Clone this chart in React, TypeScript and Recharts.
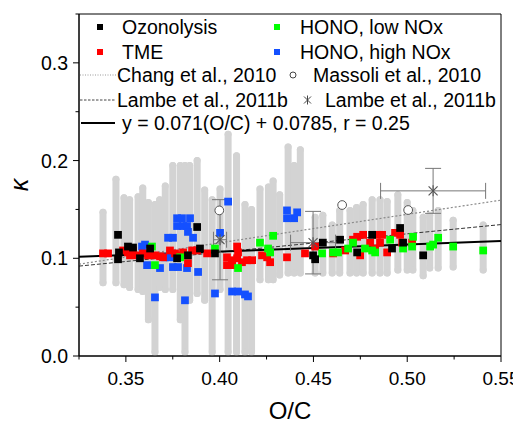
import React from 'react';
import {
  ComposedChart, Scatter, Line, XAxis, YAxis, ZAxis, ErrorBar, Legend, ReferenceArea,
} from 'recharts';

const FONT = '"Liberation Sans", Arial, Helvetica, sans-serif';

// ---------- axes ----------
const X_TICKS = [0.325, 0.35, 0.375, 0.4, 0.425, 0.45, 0.475, 0.5, 0.525, 0.55];
const X_MAJOR = [0.35, 0.4, 0.45, 0.5, 0.55];
const Y_TICKS = [0, 0.05, 0.1, 0.15, 0.2, 0.25, 0.3, 0.35];
const Y_MAJOR = [0, 0.1, 0.2, 0.3];
const X_LABEL = 'O/C';
const Y_LABEL = 'κ';

// ---------- legend labels ----------
const NAMES = {
  ozo: 'Ozonolysis',
  tme: 'TME',
  low: 'HONO, low NOx',
  high: 'HONO, high NOx',
  chang: 'Chang et al., 2010',
  massoli: 'Massoli et al., 2010',
  lambeLine: 'Lambe et al., 2011b',
  lambePts: 'Lambe et al., 2011b',
  fit: 'y = 0.071(O/C) + 0.0785, r = 0.25',
};

// ---------- gray uncertainty bars ----------
const grayX = [0.3378, 0.3447, 0.349, 0.352, 0.3565, 0.359, 0.362, 0.3655, 0.368, 0.371, 0.375, 0.379, 0.3815, 0.384, 0.388, 0.392, 0.396, 0.4002, 0.4045, 0.409, 0.4135, 0.417, 0.4215, 0.426, 0.4285, 0.432, 0.4365, 0.4397, 0.443, 0.4509, 0.455, 0.46, 0.464, 0.4695, 0.473, 0.4765, 0.4813, 0.4855, 0.4893, 0.495, 0.5, 0.503, 0.5085, 0.512, 0.5165, 0.5245, 0.5405];
const grayHi = [0.147, 0.181, 0.162, 0.16, 0.163, 0.172, 0.157, 0.155, 0.16, 0.174, 0.195, 0.195, 0.195, 0.195, 0.2, 0.17, 0.16, 0.171, 0.227, 0.205, 0.155, 0.15, 0.171, 0.173, 0.179, 0.165, 0.214, 0.195, 0.211, 0.142, 0.144, 0.134, 0.149, 0.149, 0.152, 0.155, 0.16, 0.16, 0.158, 0.165, 0.157, 0.149, 0.142, 0.144, 0.149, 0.139, 0.134];
const grayLo = [0.075, 0.075, 0.073, 0.07, 0.068, 0.066, 0.037, 0.004, 0.07, 0.068, 0.068, 0.037, 0.004, 0.057, 0.064, 0.057, 0.004, 0.068, 0.004, 0.004, 0.004, 0.004, 0.078, 0.078, 0.078, 0.083, 0.085, 0.085, 0.085, 0.085, 0.085, 0.085, 0.085, 0.085, 0.085, 0.085, 0.085, 0.085, 0.085, 0.088, 0.088, 0.088, 0.082, 0.09, 0.09, 0.091, 0.088];

// ---------- measured series ----------
const ozoX = [0.3458, 0.388, 0.3975, 0.3458, 0.3463, 0.3511, 0.3538, 0.3575, 0.3773, 0.3831, 0.3895, 0.3629, 0.4498, 0.4509, 0.455, 0.4642, 0.4733, 0.4813, 0.4919, 0.4962, 0.4978, 0.5085];
const ozoY = [0.124, 0.132, 0.105, 0.099, 0.106, 0.112, 0.111, 0.1, 0.1, 0.103, 0.11, 0.11, 0.103, 0.099, 0.116, 0.119, 0.106, 0.124, 0.11, 0.131, 0.116, 0.103];

const tmeX = [0.3378, 0.3405, 0.3485, 0.3511, 0.3538, 0.3522, 0.3559, 0.3591, 0.3618, 0.3655, 0.3682, 0.3698, 0.3735, 0.3762, 0.3789, 0.3805, 0.3853, 0.388, 0.3933, 0.3831, 0.4039, 0.4066, 0.4093, 0.4119, 0.4146, 0.4173, 0.4039, 0.4066, 0.4093, 0.4098, 0.4226, 0.4253, 0.4269, 0.4359, 0.4455, 0.4509, 0.4605, 0.4669, 0.4711, 0.4733, 0.4765, 0.4749, 0.4802, 0.4839, 0.4866, 0.4855, 0.4829, 0.4893, 0.4935, 0.4962, 0.4973, 0.5026];
const tmeY = [0.105, 0.105, 0.108, 0.106, 0.108, 0.103, 0.103, 0.105, 0.103, 0.103, 0.102, 0.101, 0.108, 0.105, 0.103, 0.106, 0.108, 0.108, 0.105, 0.095, 0.101, 0.098, 0.1, 0.096, 0.098, 0.098, 0.093, 0.093, 0.112, 0.106, 0.103, 0.101, 0.096, 0.101, 0.105, 0.112, 0.105, 0.108, 0.119, 0.122, 0.124, 0.103, 0.116, 0.124, 0.124, 0.116, 0.11, 0.106, 0.126, 0.124, 0.116, 0.116];

const lowX = [0.3655, 0.3639, 0.3789, 0.3975, 0.4098, 0.4215, 0.4285, 0.4258, 0.4269, 0.4546, 0.4605, 0.4631, 0.4685, 0.4711, 0.4775, 0.4813, 0.4829, 0.4909, 0.4978, 0.5026, 0.5031, 0.5122, 0.5138, 0.5165, 0.5245, 0.5405];
const lowY = [0.093, 0.112, 0.101, 0.11, 0.09, 0.116, 0.123, 0.11, 0.106, 0.105, 0.106, 0.106, 0.11, 0.116, 0.11, 0.108, 0.106, 0.119, 0.11, 0.112, 0.122, 0.112, 0.114, 0.121, 0.112, 0.108];

const highX = [0.4045, 0.3773, 0.3799, 0.3842, 0.3773, 0.3805, 0.3826, 0.3831, 0.3725, 0.3751, 0.3858, 0.4002, 0.3709, 0.3735, 0.3586, 0.3613, 0.3751, 0.3778, 0.3826, 0.3885, 0.3682, 0.3602, 0.3655, 0.3815, 0.3975, 0.4066, 0.4098, 0.4135, 0.4151, 0.4359, 0.4413, 0.4359, 0.4397];
const highY = [0.158, 0.141, 0.141, 0.141, 0.133, 0.133, 0.133, 0.127, 0.121, 0.121, 0.121, 0.126, 0.101, 0.101, 0.112, 0.093, 0.091, 0.091, 0.09, 0.086, 0.09, 0.114, 0.06, 0.057, 0.064, 0.066, 0.066, 0.063, 0.061, 0.149, 0.147, 0.141, 0.141];

// ---------- literature ----------
const massoliX = [0.3998, 0.4653, 0.5005];
const massoliY = [0.149, 0.1545, 0.1494];

const lambeX = [0.4002, 0.4498, 0.5138];
const lambeY = [0.119, 0.116, 0.169];
const lambeXErr = [0.0035, 0.012, 0.028];
const lambeYErr = [0.041, 0.032, 0.023];

const changX = [0.325, 0.55];
const changY = [0.094, 0.1595];
const lambeLineX = [0.325, 0.55];
const lambeLineY = [0.092, 0.1345];
const fitX = [0.325, 0.55];
const fitY = [0.1016, 0.1176];

// ---------- tables ----------
const pts = (xs: number[], ys: number[]) => xs.map((x, i) => ({ x, y: ys[i] }));
const grayData = grayX.map((x, i) => ({ x, y: grayLo[i], err: [0, grayHi[i] - grayLo[i]] }));
const ozoData = pts(ozoX, ozoY);
const tmeData = pts(tmeX, tmeY);
const lowData = pts(lowX, lowY);
const highData = pts(highX, highY);
const massoliData = pts(massoliX, massoliY);
const lambeData = lambeX.map((x, i) => ({ x, y: lambeY[i], xe: lambeXErr[i], ye: lambeYErr[i] }));
const changData = pts(changX, changY);
const lambeLineData = pts(lambeLineX, lambeLineY);
const fitData = pts(fitX, fitY);

const near = (arr: number[], v: number) => arr.some((a) => Math.abs(a - v) < 1e-9);

const XTick = (props: any) => {
  const { x, y, payload } = props;
  const major = near(X_MAJOR, payload.value);
  return (
    <g>
      <line x1={x} x2={x} y1={y} y2={y + (major ? 6 : 3.5)} stroke="#000" strokeWidth={1} />
      {major && (
        <text x={x} y={y + 29} textAnchor="middle" fontSize={19} fontFamily={FONT} fill="#000">
          {payload.value.toFixed(2)}
        </text>
      )}
    </g>
  );
};

const YTick = (props: any) => {
  const { x, y, payload } = props;
  const major = near(Y_MAJOR, payload.value);
  return (
    <g>
      <line x1={x - (major ? 6 : 3.5)} x2={x} y1={y} y2={y} stroke="#000" strokeWidth={1} />
      {major && (
        <text x={x - 11} y={y + 7} textAnchor="end" fontSize={19.5} fontFamily={FONT} fill="#000">
          {payload.value.toFixed(1)}
        </text>
      )}
    </g>
  );
};

const Hidden = () => <g />;

const Asterisk = (props: any) => {
  const { cx, cy } = props;
  const r = 4.5;
  return (
    <g stroke="#555" strokeWidth={1.1}>
      <line x1={cx - r} y1={cy - r} x2={cx + r} y2={cy + r} />
      <line x1={cx - r} y1={cy + r} x2={cx + r} y2={cy - r} />
      <line x1={cx} y1={cy - r - 1} x2={cx} y2={cy + r + 1} />
    </g>
  );
};

const LegendBox = () => {
  const t = { fontSize: 19.5, fontFamily: FONT, fill: '#000' } as const;
  const rows = [13, 38, 61, 86, 109];
  return (
    <svg width={425} height={125} style={{ display: 'block', overflow: 'visible' }}>
      <rect x={17} y={rows[0] - 3} width={6} height={6} fill="#000" />
      <text x={42} y={rows[0] + 7} {...t}>{NAMES.ozo}</text>
      <rect x={194} y={rows[0] - 3} width={6} height={6} fill="#00ff00" />
      <text x={220} y={rows[0] + 7} {...t}>{NAMES.low}</text>

      <rect x={17} y={rows[1] - 3} width={6} height={6} fill="#ff0000" />
      <text x={42} y={rows[1] + 7} {...t}>{NAMES.tme}</text>
      <rect x={194} y={rows[1] - 3} width={6} height={6} fill="#1450ff" />
      <text x={220} y={rows[1] + 7} {...t}>{NAMES.high}</text>

      <line x1={0} x2={36} y1={rows[2]} y2={rows[2]} stroke="#999" strokeWidth={1} strokeDasharray="1 1.5" />
      <text x={37} y={rows[2] + 7} {...t}>{NAMES.chang}</text>
      <circle cx={213} cy={rows[2]} r={3} fill="#fff" stroke="#444" strokeWidth={1} />
      <text x={233} y={rows[2] + 7} {...t}>{NAMES.massoli}</text>

      <line x1={0} x2={36} y1={rows[3]} y2={rows[3]} stroke="#444" strokeWidth={1} strokeDasharray="2.5 1.5" />
      <text x={37} y={rows[3] + 7} {...t}>{NAMES.lambeLine}</text>
      <g stroke="#444" strokeWidth={1}>
        <line x1={224} y1={rows[3] - 3.5} x2={231} y2={rows[3] + 3.5} />
        <line x1={224} y1={rows[3] + 3.5} x2={231} y2={rows[3] - 3.5} />
        <line x1={227.5} y1={rows[3] - 4.5} x2={227.5} y2={rows[3] + 4.5} />
      </g>
      <text x={245} y={rows[3] + 7} {...t}>{NAMES.lambePts}</text>

      <line x1={1} x2={35} y1={rows[4]} y2={rows[4]} stroke="#000" strokeWidth={2} />
      <text x={42} y={rows[4] + 7} {...t}>{NAMES.fit}</text>
    </svg>
  );
};

const YLabel = (props: any) => {
  const vb = props.viewBox || {};
  const x = vb.x + 12;
  const y = vb.y + vb.height / 2;
  return (
    <text x={x} y={y + 8} transform={`rotate(-90, ${x}, ${y})`} textAnchor="middle" fontSize={25} fontStyle="italic" fontFamily={FONT} fill="#000">
      {Y_LABEL}
    </text>
  );
};

const XLabel = (props: any) => {
  const vb = props.viewBox || {};
  const x = vb.x + vb.width / 2;
  const y = vb.y + 63;
  return (
    <text x={x} y={y} textAnchor="middle" fontSize={24} fontFamily={FONT} fill="#000">
      {X_LABEL}
    </text>
  );
};

export default function App() {
  return (
    <div>
      <style>{`html{overflow:hidden} .recharts-wrapper,.recharts-surface{overflow:visible !important}`}</style>
      <ComposedChart width={505} height={415} margin={{ top: 6, right: 12, left: 0, bottom: 7 }}>
        <XAxis
          type="number"
          dataKey="x"
          domain={[0.325, 0.55]}
          ticks={X_TICKS}
          interval={0}
          allowDataOverflow
          height={60}
          tickLine={false}
          tickSize={0}
          tickMargin={0}
          tick={XTick}
          axisLine={{ stroke: '#000', strokeWidth: 1 }}
          label={{ content: XLabel }}
        />
        <YAxis
          type="number"
          dataKey="y"
          domain={[0, 0.35]}
          ticks={Y_TICKS}
          interval={0}
          allowDataOverflow
          width={71}
          tickLine={false}
          tickSize={0}
          tickMargin={0}
          tick={YTick}
          axisLine={{ stroke: '#000', strokeWidth: 1 }}
          label={{ content: YLabel }}
        />
        <ZAxis range={[60, 60]} />

        <Scatter data={grayData} shape={Hidden} isAnimationActive={false} legendType="none">
          <ErrorBar dataKey="err" direction="y" width={0} stroke="#d3d3d3" strokeWidth={7} strokeLinecap="round" isAnimationActive={false} />
        </Scatter>

        <Line data={changData} dataKey="y" stroke="#8a8a8a" strokeWidth={1.2} strokeDasharray="2 2" dot={false} activeDot={false} isAnimationActive={false} legendType="none" />
        <Line data={lambeLineData} dataKey="y" stroke="#333" strokeWidth={1} strokeDasharray="4 2" dot={false} activeDot={false} isAnimationActive={false} legendType="none" />
        <Line data={fitData} dataKey="y" stroke="#000" strokeWidth={2} dot={false} activeDot={false} isAnimationActive={false} legendType="none" />

        <Scatter data={highData} shape="square" fill="#1450ff" isAnimationActive={false} legendType="none" />
        <Scatter data={tmeData} shape="square" fill="#ff0000" isAnimationActive={false} legendType="none" />
        <Scatter data={lowData} shape="square" fill="#00ff00" isAnimationActive={false} legendType="none" />
        <Scatter data={ozoData} shape="square" fill="#000" isAnimationActive={false} legendType="none" />

        <Scatter data={lambeData} shape={Asterisk} isAnimationActive={false} legendType="none">
          <ErrorBar dataKey="ye" direction="y" width={8} stroke="#777" strokeWidth={1} isAnimationActive={false} />
          <ErrorBar dataKey="xe" direction="x" width={8} stroke="#777" strokeWidth={1} isAnimationActive={false} />
        </Scatter>
        <Scatter data={massoliData} shape="circle" fill="#fff" stroke="#555" strokeWidth={1} isAnimationActive={false} legendType="none" />

        <ReferenceArea x1={0.325} x2={0.55} y1={0} y2={0.35} fill="none" fillOpacity={0} stroke="#000" strokeWidth={1} ifOverflow="visible" />

        <Legend
          layout="vertical"
          align="center"
          verticalAlign="middle"
          content={LegendBox}
          wrapperStyle={{ position: 'absolute', left: 72, top: 6, width: 425, height: 125 }}
        />
      </ComposedChart>
    </div>
  );
}
